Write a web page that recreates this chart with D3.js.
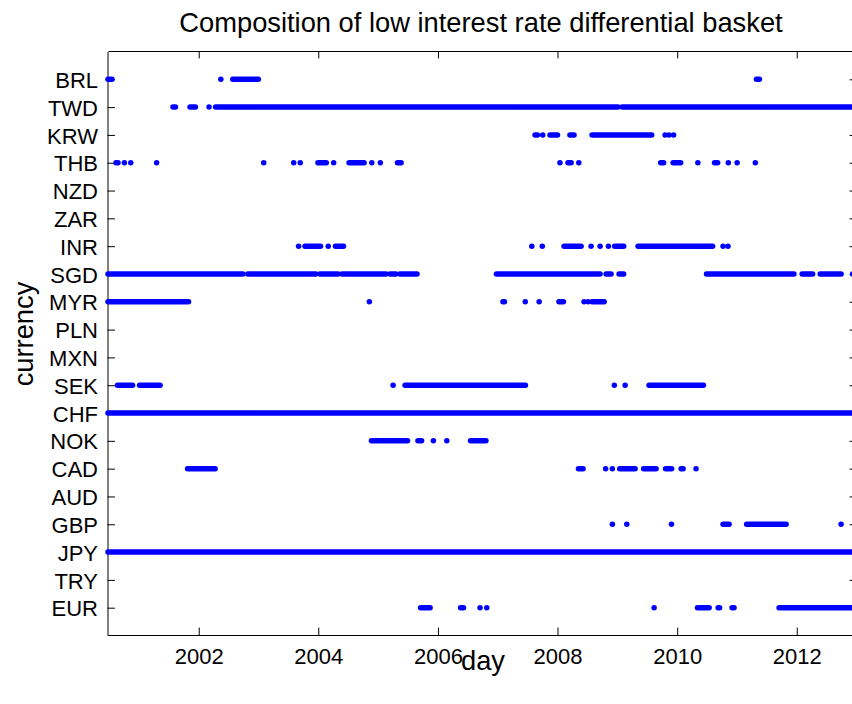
<!DOCTYPE html>
<html>
<head>
<meta charset="utf-8">
<script src="https://cdn.jsdelivr.net/npm/d3@7"></script>
<style>
  html, body { margin: 0; padding: 0; background: #fff; }
  svg { display: block; font-family: "Liberation Sans", Arial, Helvetica, sans-serif; }
</style>
</head>
<body>
<svg id="chart" width="852" height="704"></svg>
<script>
// Currencies in axis order, bottom (1) to top (20)
const currencies = ["EUR", "TRY", "JPY", "GBP", "AUD", "CAD", "NOK", "CHF", "SEK", "MXN",
                    "PLN", "MYR", "SGD", "INR", "ZAR", "NZD", "THB", "KRW", "TWD", "BRL"];
const yearTicks = [2002, 2004, 2006, 2008, 2010, 2012];
const sampleStart = "2000-06-26";
const sampleEnd = "2013-01-06";

// Days each currency sat in the low-differential basket: "start/end" spells or single days
const BRL = ["2000-06-26/2000-07-20", "2002-05-16", "2002-07-28/2002-12-31", "2011-04-30/2011-05-18"];
const TWD = ["2001-07-28/2001-08-12", "2001-11-09/2001-12-12", "2002-03-05", "2002-04-14/2009-01-05",
             "2009-01-30/2013-01-06"];
const KRW = ["2007-08-17/2007-09-01", "2007-10-03", "2007-11-16/2008-01-01", "2008-03-17/2008-04-11",
             "2008-07-30/2009-07-29", "2009-10-19", "2009-11-12", "2009-12-10"];
const THB = ["2000-08-14/2000-08-26", "2000-10-04", "2000-11-12", "2001-04-19", "2003-02-02",
             "2003-08-04", "2003-09-13", "2003-12-30/2004-02-19", "2004-04-04", "2004-07-07/2004-10-07",
             "2004-11-23", "2005-01-14", "2005-04-29/2005-05-21", "2008-01-16", "2008-03-05/2008-03-24",
             "2008-05-10", "2009-09-22/2009-10-10", "2009-12-07/2010-01-22", "2010-05-07",
             "2010-08-17/2010-09-05", "2010-11-09", "2011-01-02", "2011-04-23"];
const NZD = [];
const ZAR = [];
const INR = ["2003-09-03", "2003-10-12/2004-01-15", "2004-03-02", "2004-04-15/2004-06-03", "2007-07-28",
             "2007-09-30", "2008-02-10/2008-05-24", "2008-07-24", "2008-09-17", "2008-11-07",
             "2008-12-15/2009-02-08", "2009-05-07/2010-08-05", "2010-10-08", "2010-11-07"];
const SGD = ["2000-06-26/2002-09-28", "2002-10-28/2003-12-17", "2004-01-11/2004-04-30",
             "2004-05-25/2005-02-17", "2005-03-14/2005-04-19", "2005-05-14/2005-08-26",
             "2006-12-24/2008-09-17", "2008-10-24/2008-11-23", "2009-01-11/2009-02-08",
             "2010-06-29/2011-12-15", "2012-02-03/2012-04-07", "2012-05-23/2012-09-28", "2012-12-07"];
const MYR = ["2000-06-26/2001-10-31", "2004-11-08", "2007-02-02/2007-02-11", "2007-06-18", "2007-09-11",
             "2008-01-10/2008-02-06", "2008-06-11", "2008-07-06", "2008-07-30/2008-10-12"];
const PLN = [];
const MXN = [];
const SEK = ["2000-08-23/2000-11-23", "2001-01-05/2001-05-10", "2005-04-02", "2005-06-14/2007-06-19",
             "2008-12-13", "2009-02-17", "2009-07-13/2010-06-10"];
const CHF = ["2000-06-26/2013-01-06"];
const NOK = ["2004-11-21/2005-06-29", "2005-09-01/2005-09-23", "2005-12-04", "2006-02-24",
             "2006-07-19/2006-10-21"];
const CAD = ["2001-10-25/2002-04-11", "2008-05-08/2008-06-05", "2008-10-21", "2008-12-01",
             "2009-01-15/2009-04-19", "2009-06-10/2009-08-25", "2009-10-22/2009-11-28",
             "2010-01-25/2010-02-06", "2010-04-26"];
const AUD = [];
const GBP = ["2008-12-01", "2009-02-27", "2009-11-27", "2010-10-08/2010-11-14", "2011-03-01/2011-10-28",
             "2012-09-28"];
const JPY = ["2000-06-26/2013-01-06"];
const TRY = [];
const EUR = ["2005-09-17/2005-11-14", "2006-05-19/2006-06-06", "2006-09-15", "2006-10-26", "2009-08-13",
             "2010-05-05/2010-07-15", "2010-09-08/2010-09-17", "2010-12-02/2010-12-14",
             "2011-09-15/2013-01-06"];

const basket = { EUR, TRY, JPY, GBP, AUD, CAD, NOK, CHF, SEK, MXN, PLN, MYR, SGD, INR, ZAR, NZD, THB, KRW, TWD, BRL };

const parse = d3.utcParse("%Y-%m-%d");
const spells = currencies.flatMap((code, i) =>
  basket[code].map(s => {
    const [a, b] = s.split("/");
    return { code, level: i + 1, start: parse(a), end: parse(b || a) };
  })
);

const svg = d3.select("#chart");
const plotLeft = 108, plotRight = 857.5, plotTop = 51.5, plotBottom = 635.5;
const tickLen = 7.4;
const tickFont = 22;
const labelFont = 27.3;

const x = d3.scaleUtc()
  .domain([parse(sampleStart), parse(sampleEnd)])
  .range([plotLeft, plotRight]);
const y = d3.scaleLinear()
  .domain([0, currencies.length + 1])
  .range([plotBottom, plotTop]);

const yearDates = yearTicks.map(yr => new Date(Date.UTC(yr, 0, 1)));
const levels = currencies.map((c, i) => i + 1);

// Bottom axis with year labels
const gx = svg.append("g")
  .attr("transform", `translate(0,${plotBottom - 0.5})`)
  .call(d3.axisBottom(x).tickValues(yearDates).tickFormat(d3.utcFormat("%Y"))
    .tickSizeInner(-tickLen).tickSizeOuter(0));
gx.selectAll("text")
  .attr("y", 28.8).attr("dy", 0)
  .attr("font-size", tickFont).attr("font-family", "Liberation Sans, Arial, sans-serif").attr("fill", "#000");

// Top axis, ticks only
svg.append("g")
  .attr("transform", `translate(0,${plotTop - 0.5})`)
  .call(d3.axisTop(x).tickValues(yearDates).tickFormat("")
    .tickSizeInner(-tickLen).tickSizeOuter(0));

// Left axis with currency codes
const gy = svg.append("g")
  .attr("transform", `translate(${plotLeft - 0.5},0)`)
  .call(d3.axisLeft(y).tickValues(levels).tickFormat(v => currencies[v - 1])
    .tickSizeInner(-tickLen).tickSizeOuter(0).tickPadding(9.5));
gy.selectAll("text")
  .attr("dy", "0.37em")
  .attr("font-size", tickFont).attr("font-family", "Liberation Sans, Arial, sans-serif").attr("fill", "#000");

// Right axis, ticks only
svg.append("g")
  .attr("transform", `translate(${plotRight - 0.5},0)`)
  .call(d3.axisRight(y).tickValues(levels).tickFormat("")
    .tickSizeInner(-tickLen).tickSizeOuter(0));

svg.selectAll(".domain, .tick line").attr("stroke", "#000").attr("stroke-width", 1);

// Basket membership marks
const r = 2.75;
svg.append("g")
  .attr("fill", "#0000ff")
  .selectAll("rect")
  .data(spells)
  .join("rect")
  .attr("x", d => x(d.start) - r)
  .attr("y", d => y(d.level) - r)
  .attr("width", d => x(d.end) - x(d.start) + 2 * r)
  .attr("height", 2 * r)
  .attr("rx", r)
  .attr("ry", r);

// Titles
svg.append("text")
  .attr("x", 481).attr("y", 31.7)
  .attr("text-anchor", "middle")
  .attr("font-size", labelFont)
  .text("Composition of low interest rate differential basket");

svg.append("text")
  .attr("x", 483).attr("y", 670)
  .attr("text-anchor", "middle")
  .attr("font-size", labelFont)
  .text("day");

svg.append("text")
  .attr("transform", "translate(33,334) rotate(-90)")
  .attr("text-anchor", "middle")
  .attr("font-size", labelFont)
  .text("currency");
</script>
</body>
</html>
